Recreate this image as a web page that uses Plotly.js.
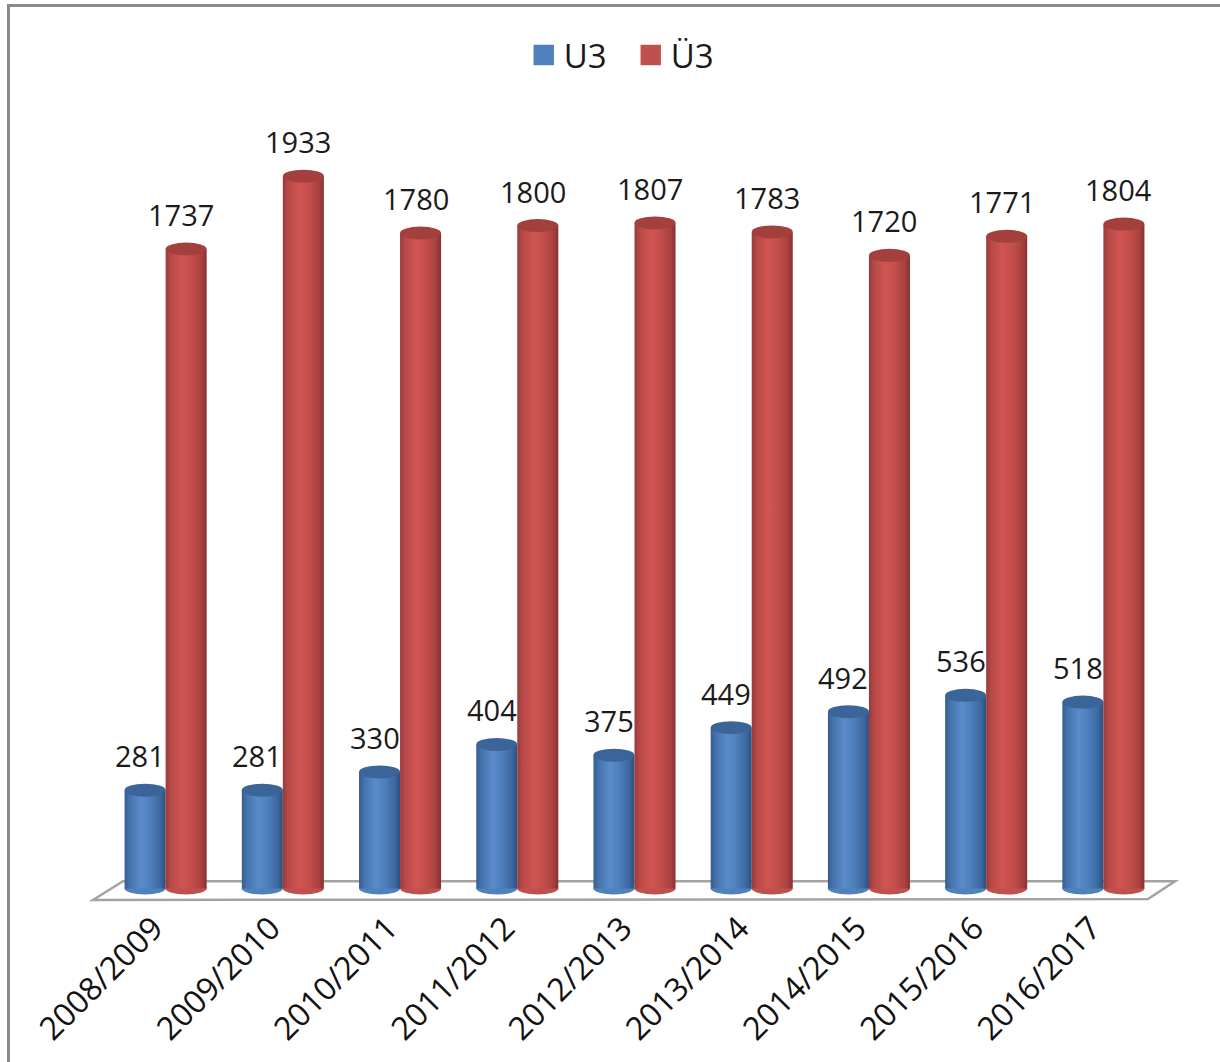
<!DOCTYPE html>
<html>
<head>
<meta charset="utf-8">
<script src="https://cdn.plot.ly/plotly-3.0.1.min.js"></script>
<style>
  html, body { margin: 0; padding: 0; background: #ffffff; }
  #wrap { position: relative; width: 1220px; height: 1062px; overflow: hidden; }
  #chart { position: absolute; left: 0; top: 0; width: 1220px; height: 1062px; }
  #frame { position: absolute; left: 7px; top: 4px; width: 1230px; height: 1100px;
           border-top: 3px solid #8a8a8a; border-left: 3px solid #8a8a8a; pointer-events: none; }
</style>
</head>
<body>
<svg width="0" height="0" style="position:absolute">
  <defs>
    <linearGradient id="gBlue" x1="0" y1="0" x2="1" y2="0">
      <stop offset="0" stop-color="#365d8f"/>
      <stop offset="0.12" stop-color="#4472ab"/>
      <stop offset="0.40" stop-color="#5a8bcb"/>
      <stop offset="0.62" stop-color="#4e80bd"/>
      <stop offset="0.88" stop-color="#3b679e"/>
      <stop offset="1" stop-color="#2c4f7e"/>
    </linearGradient>
    <linearGradient id="gRed" x1="0" y1="0" x2="1" y2="0">
      <stop offset="0" stop-color="#983a38"/>
      <stop offset="0.12" stop-color="#b54947"/>
      <stop offset="0.40" stop-color="#d05553"/>
      <stop offset="0.62" stop-color="#c54f4c"/>
      <stop offset="0.88" stop-color="#a8413f"/>
      <stop offset="1" stop-color="#86302e"/>
    </linearGradient>
  </defs>
</svg>
<div id="wrap">
  <div id="chart"></div>
  <div id="frame"></div>
</div>
<script>
// ---- data ----
const categories = ['2008/2009', '2009/2010', '2010/2011', '2011/2012', '2012/2013',
                    '2013/2014', '2014/2015', '2015/2016', '2016/2017'];
const u3Values  = [281, 281, 330, 404, 375, 449, 492, 536, 518];
const ue3Values = [1737, 1933, 1780, 1800, 1807, 1783, 1720, 1771, 1804];
const seriesNames = ['U3', 'Ü3'];

// ---- style ----
const FONT = '"Open Sans", "Noto Sans", sans-serif';
const flatColors = ['#4f81bd', '#c0504d'];
const topColors = ['#3b6599', '#a3403e'];
const gradIds = ['gBlue', 'gRed'];
const BARGAP = 0.30;
const barW = (1 - BARGAP) / 2;
const offsets = [-barW / 2, barW / 2];
const BASE = 16;           // cylinder bottom sits slightly above the floor line
const W = 1220, H = 1062;
const M = { l: 107, r: 58, t: 75, b: 160 };
const plotW = W - M.l - M.r, plotH = H - M.t - M.b;
const pxToPaperX = px => (px - M.l) / plotW;
const pxToPaperY = py => (H - M.b - py) / plotH;

const allSeries = [u3Values, ue3Values];

const traces = allSeries.map((vals, s) => ({
  type: 'bar',
  name: seriesNames[s],
  x: categories,
  y: vals.map(v => v - BASE),
  base: BASE,
  marker: { color: flatColors[s], line: { width: 0 } },
  hoverinfo: 'skip'
}));

// floor (decoration)
const floorPts = [[93, 900], [123, 881], [1175, 881], [1148, 899]];
const floorPath = 'M ' + floorPts.map(p => pxToPaperX(p[0]).toFixed(5) + ',' + pxToPaperY(p[1]).toFixed(5)).join(' L ') + ' Z';

const shapes = [{
  type: 'path', xref: 'paper', yref: 'paper', path: floorPath,
  fillcolor: '#ffffff', line: { color: '#a3a3a3', width: 2.5 }, layer: 'below'
}];

// cylinder bottoms and tops
allSeries.forEach((vals, s) => {
  vals.forEach((v, i) => {
    const cx = i + offsets[s];
    shapes.push({
      type: 'circle', xref: 'x', yref: 'y', layer: 'below',
      x0: cx - barW / 2, x1: cx + barW / 2,
      ysizemode: 'pixel', yanchor: BASE, y0: -6, y1: 6,
      fillcolor: flatColors[s], line: { width: 0 }
    });
  });
});
allSeries.forEach((vals, s) => {
  vals.forEach((v, i) => {
    const cx = i + offsets[s];
    shapes.push({
      type: 'circle', xref: 'x', yref: 'y', layer: 'above',
      x0: cx - barW / 2, x1: cx + barW / 2,
      ysizemode: 'pixel', yanchor: v, y0: -6.5, y1: 6.5,
      fillcolor: topColors[s], line: { width: 0 }
    });
  });
});

const annotations = [];
allSeries.forEach((vals, s) => {
  vals.forEach((v, i) => {
    annotations.push({
      x: i + offsets[s], y: v, xref: 'x', yref: 'y',
      text: String(v), showarrow: false,
      yanchor: 'bottom', xanchor: 'center',
      yshift: 13, xshift: -5,
      font: { family: FONT, size: 29, color: '#1a1a1a' }
    });
  });
});

const layout = {
  width: W, height: H, autosize: false,
  margin: M,
  paper_bgcolor: '#ffffff', plot_bgcolor: 'rgba(0,0,0,0)',
  barmode: 'group', bargap: BARGAP, bargroupgap: 0,
  showlegend: true,
  legend: {
    orientation: 'h', xref: 'container', yref: 'container',
    x: 0.517, xanchor: 'center', y: 1 - 55 / H, yanchor: 'middle',
    entrywidth: 62, entrywidthmode: 'pixels',
    font: { family: FONT, size: 33, color: '#1a1a1a' },
    itemclick: false, itemdoubleclick: false
  },
  xaxis: {
    type: 'category', range: [-0.5, 8.5],
    showgrid: false, zeroline: false, showline: false, ticks: '',
    tickangle: -45, ticklabelshift: -12, ticklabelstandoff: 0,
    tickfont: { family: FONT, size: 32, color: '#111111' }
  },
  yaxis: {
    range: [-20, (H - M.b - M.t) / 0.3753 - 20],
    visible: false, showgrid: false, zeroline: false, fixedrange: true
  },
  shapes: shapes,
  annotations: annotations,
  font: { family: FONT }
};

Plotly.newPlot('chart', traces, layout, { staticPlot: true, displayModeBar: false }).then(() => {
  const traceGroups = document.querySelectorAll('#chart .barlayer .trace.bars');
  traceGroups.forEach((g, s) => {
    g.querySelectorAll('path').forEach(p => { p.style.fill = 'url(#' + gradIds[s] + ')'; });
  });
  document.querySelectorAll('#chart .legend .legendpoints path').forEach(p => {
    const t = p.getAttribute('transform') || '';
    p.setAttribute('transform', t + ' scale(1.7)');
  });
});
</script>
</body>
</html>
